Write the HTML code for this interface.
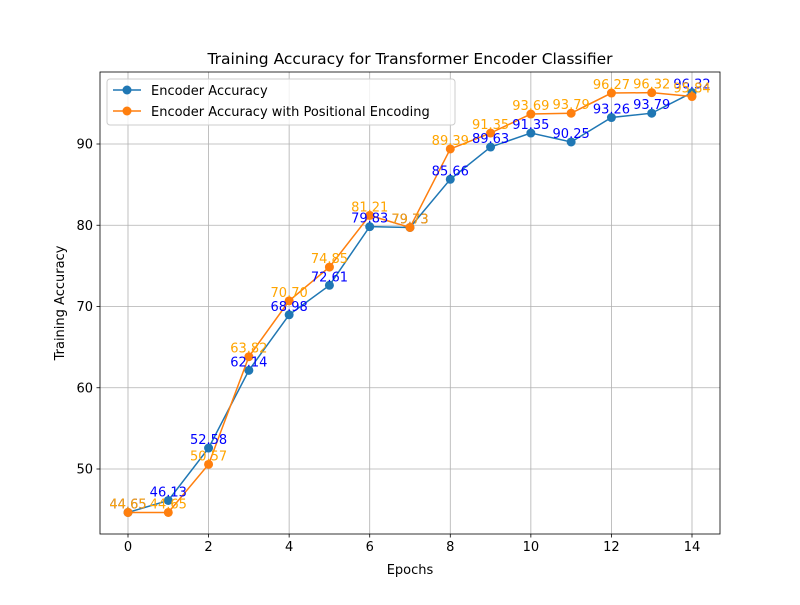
<!DOCTYPE html>
<html><head><meta charset="utf-8"><style>
body{margin:0;background:#fff;font-family:"Liberation Sans","DejaVu Sans",sans-serif}
svg text{font-family:"DejaVu Sans","Liberation Sans",sans-serif}
</style></head><body>
<svg id="c" width="800" height="600" xmlns="http://www.w3.org/2000/svg">
<rect width="800" height="600" fill="#fff"/>
<g id="grid"></g><g id="axes"></g><g id="series"></g><g id="labels"></g><g id="legend"></g>
</svg>
<script>
const epochs=[0,1,2,3,4,5,6,7,8,9,10,11,12,13,14];
const encoderAcc=[44.65,46.13,52.58,62.14,68.98,72.61,79.83,79.73,85.66,89.63,91.35,90.25,93.26,93.79,96.32];
const posEncAcc=[44.65,44.65,50.57,63.82,70.70,74.85,81.21,79.73,89.39,91.35,93.69,93.79,96.27,96.32,95.84];
const xTicks=[0,2,4,6,8,10,12,14];
const yTicks=[50,60,70,80,90];
const L=100,R=720,T=72,B=534;
const xs=v=>128+(v-0)*(692-128)/14;
const ys=v=>469-(v-50)*(469-144)/40;
const NS="http://www.w3.org/2000/svg";
function mk(tag,attrs,parent,txt){const e=document.createElementNS(NS,tag);for(const k in attrs)e.setAttribute(k,attrs[k]);if(txt!==undefined)e.textContent=txt;parent.appendChild(e);return e;}
const grid=document.getElementById('grid'),axes=document.getElementById('axes'),series=document.getElementById('series'),labels=document.getElementById('labels'),legend=document.getElementById('legend');
xTicks.forEach(t=>{const x=xs(t);
let g=mk('line',{x1:x,x2:x,y1:T,y2:B,stroke:'#b0b0b0','stroke-width':0.8},grid);

mk('line',{x1:x,x2:x,y1:B,y2:B+3.5,stroke:'#000','stroke-width':0.8},axes);
let tx=mk('text',{x:x,y:B+17,'font-size':13,'text-anchor':'middle'},axes,String(t));
});
yTicks.forEach(t=>{const y=ys(t);
let g=mk('line',{x1:L,x2:R,y1:y,y2:y,stroke:'#b0b0b0','stroke-width':0.8},grid);

mk('line',{x1:L-3.5,x2:L,y1:y,y2:y,stroke:'#000','stroke-width':0.8},axes);
let tx=mk('text',{x:L-7,y:y+4.5,'font-size':13,'text-anchor':'end'},axes,String(t));
});
let fr=mk('rect',{x:L,y:T,width:R-L,height:B-T,fill:'none',stroke:'#000','stroke-width':0.8},axes);

let t1=mk('text',{x:410,y:64,'font-size':15.5,'text-anchor':'middle'},axes,'Training Accuracy for Transformer Encoder Classifier');

let t2=mk('text',{x:410,y:574,'font-size':13,'text-anchor':'middle'},axes,'Epochs');

let t3=mk('text',{x:64,y:303,'font-size':13,'text-anchor':'middle',transform:'rotate(-90 64 303)'},axes,'Training Accuracy');

function drawSeries(vals,color,lblColor,name){
const pts=epochs.map((e,i)=>xs(e)+','+ys(vals[i])).join(' ');
let pl=mk('polyline',{points:pts,fill:'none',stroke:color,'stroke-width':1.5},series);

epochs.forEach((e,i)=>{let c=mk('circle',{cx:xs(e),cy:ys(vals[i]),r:4.5,fill:color},series);

let tx=mk('text',{x:xs(e),y:ys(vals[i])-4,'font-size':13,'text-anchor':'middle',fill:lblColor},labels,vals[i].toFixed(2));
});}
drawSeries(encoderAcc,'#1f77b4','blue','encoder');
drawSeries(posEncAcc,'#ff7f0e','orange','positional');
let lb=mk('rect',{x:107,y:79,width:348,height:46,rx:3,fill:'#fff','fill-opacity':0.8,stroke:'#ccc','stroke-width':1},legend);

[['Encoder Accuracy','#1f77b4',90],['Encoder Accuracy with Positional Encoding','#ff7f0e',111]].forEach(([n,c,y])=>{
mk('line',{x1:113,x2:141,y1:y,y2:y,stroke:c,'stroke-width':1.5},legend);
mk('circle',{cx:127,cy:y,r:4.5,fill:c},legend);
let tx=mk('text',{x:151,y:y+5,'font-size':13},legend,n);
});
</script>
</body></html>
